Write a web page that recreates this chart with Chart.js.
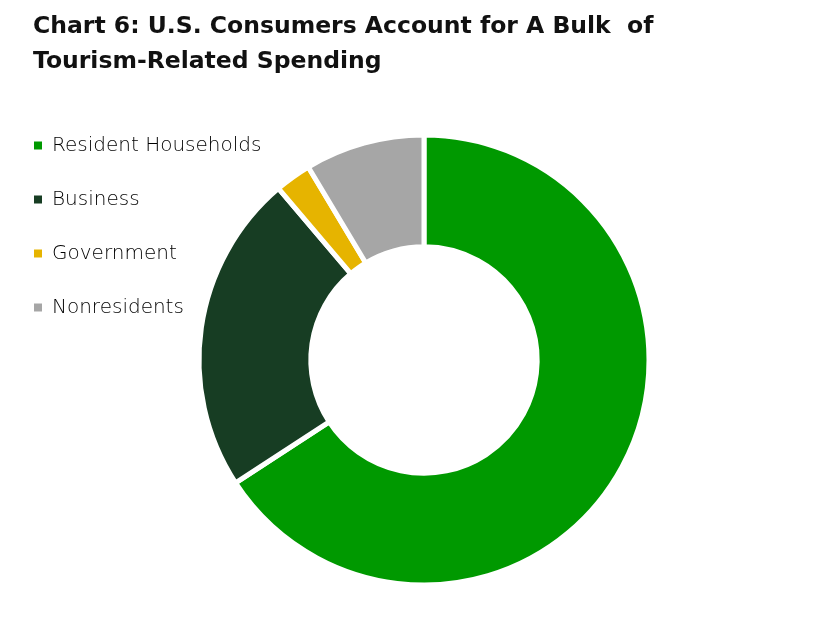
<!DOCTYPE html>
<html>
<head>
<meta charset="utf-8">
<script src="https://cdn.jsdelivr.net/npm/chart.js@4/dist/chart.umd.min.js"></script>
<style>
  html, body { margin: 0; padding: 0; background: #fff; overflow: hidden; }
  #wrap { position: relative; width: 827px; height: 617px; overflow: hidden; }
  #title {
    position: absolute; left: 33px; top: 8px;
    font-family: "DejaVu Sans", sans-serif; font-weight: 700;
    font-size: 23.5px; line-height: 35px; color: #111;
    white-space: pre;
  }
  canvas { position: absolute; left: 0; top: 0; }
</style>
</head>
<body>
<div id="wrap">
  <!-- canvas is 21px wider than the page so the ring centres at x=424 -->
  <canvas id="donutChart" width="848" height="617"></canvas>
  <div id="title">Chart 6: U.S. Consumers Account for A Bulk  of
Tourism-Related Spending</div>
</div>
<script>
// categories and shares (% of tourism spending)
var categories = ['Resident Households', 'Business', 'Government', 'Nonresidents'];
var shares = [65.8, 23.0, 2.6, 8.6];
var sliceColors = ['#009900', '#173d23', '#e6b400', '#a6a6a6'];

var ctx = document.getElementById('donutChart').getContext('2d');
var chart = new Chart(ctx, {
    type: 'doughnut',
    data: {
        labels: categories,
        datasets: [
            {
                data: shares,
                backgroundColor: sliceColors,
                borderColor: '#ffffff',
                borderWidth: 5
            }
        ]
    },
    options: {
        responsive: false,
        animation: false,
        cutout: '50.3%',
        radius: 225,   // white border eats 2.5px of the rim
        layout: {
            padding: { top: 103, right: 0, bottom: 0, left: 0 }
        },
        plugins: {
            tooltip: { enabled: false },
            legend: {
                position: 'chartArea',
                align: 'start',
                // empty title only pushes the items down
                title: {
                    display: true,
                    text: '',
                    font: { size: 10 },
                    padding: { top: 89.5, bottom: 0 }
                },
                labels: {
                    boxWidth: 8,
                    boxHeight: 8,
                    padding: 34,
                    color: '#000',
                    font: { family: 'DejaVu Sans', size: 20, weight: '200' },
                    // no white border on the legend squares
                    generateLabels: function (c) {
                        var items = Chart.overrides.doughnut.plugins.legend.labels.generateLabels(c);
                        items.forEach(function (it) { it.lineWidth = 0; });
                        return items;
                    }
                }
            }
        }
    }
});
</script>
</body>
</html>
